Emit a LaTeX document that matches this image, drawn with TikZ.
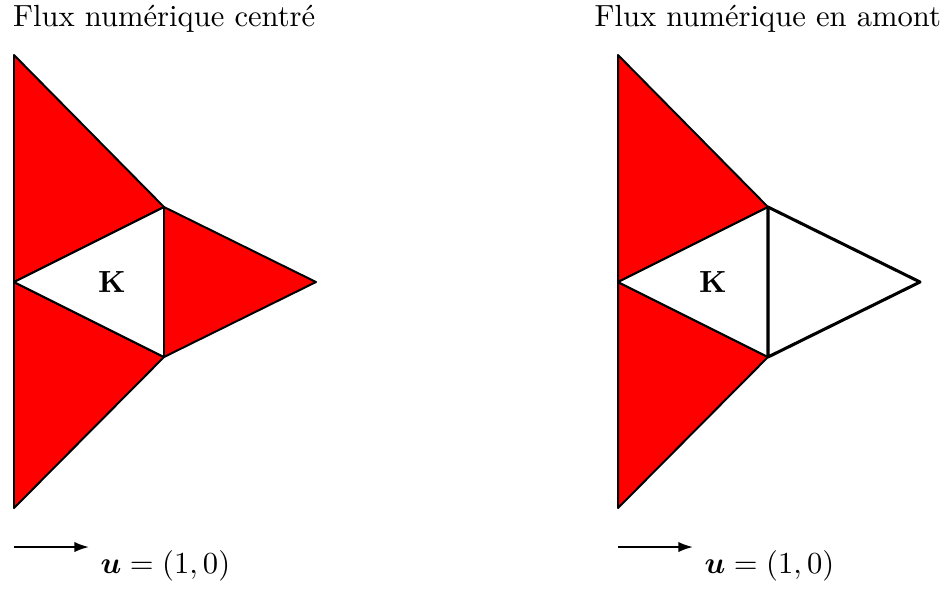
\documentclass[tikz,border=0pt]{standalone}
\usepackage{amsmath,amssymb}
\usetikzlibrary{arrows.meta,positioning}

\begin{document}
\begin{tikzpicture}[
  x=0.327pt, y=-0.327pt,
  >={Latex[length=4.8pt,width=3.4pt]},
  face/.style={draw, line width=0.65pt, line join=round, fill=red},
  hole/.style={draw, line width=0.65pt, line join=round, fill=white},
  bold edge/.style={draw, line width=1pt, line join=round},
  title/.style={anchor=base west, inner sep=0pt},
  vel/.style={->, line width=0.65pt}
]
\useasboundingbox (0,0) rectangle (951,588);

% centred flux
\node[title] (tc) at (12.5,26.5) {Flux numérique centré};
\coordinate (c1) at (14,55);
\coordinate (c2) at (14,282);
\coordinate (c3) at (14,508);
\coordinate (c4) at (164,207);
\coordinate (c5) at (164,357);
\coordinate (c6) at (316,282);
\filldraw[face] (c1) -- (c2) -- (c4) -- cycle;
\filldraw[face] (c2) -- (c3) -- (c5) -- cycle;
\filldraw[face] (c4) -- (c5) -- (c6) -- cycle;
\filldraw[hole] (c2) -- (c4) -- (c5) -- cycle;
\node (kc) at (112,282) {$\mathbf{K}$};
\coordinate (vc0) at (14,547);
\coordinate (vc1) at (89,547);
\draw[vel] (vc0) -- (vc1);
\node[title] (uc) at (100,573) {$\boldsymbol{u}=(1,0)$};

% upwind flux
\node[title] (tu) at (594,26.5) {Flux numérique en amont};
\coordinate (u1) at (618,55);
\coordinate (u2) at (618,282);
\coordinate (u3) at (618,508);
\coordinate (u4) at (768,207);
\coordinate (u5) at (768,357);
\coordinate (u6) at (920,282);
\filldraw[face] (u1) -- (u2) -- (u4) -- cycle;
\filldraw[face] (u2) -- (u3) -- (u5) -- cycle;
\filldraw[hole] (u2) -- (u4) -- (u5) -- cycle;
\draw[bold edge] (u4) -- (u5) -- (u6) -- cycle;
\node (ku) at (713,282) {$\mathbf{K}$};
\coordinate (vu0) at (618,547);
\coordinate (vu1) at (693,547);
\draw[vel] (vu0) -- (vu1);
\node[title] (uu) at (704,573) {$\boldsymbol{u}=(1,0)$};
\end{tikzpicture}
\end{document}
